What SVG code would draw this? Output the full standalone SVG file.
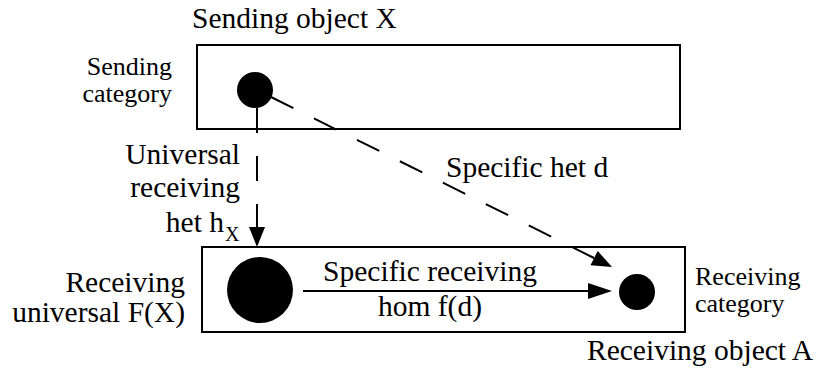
<svg xmlns="http://www.w3.org/2000/svg" width="818" height="379" viewBox="0 0 818 379">
<style>
  .box { fill: none; stroke: #000; stroke-width: 2; }
  .dash { fill: none; stroke: #000; stroke-width: 2; stroke-dasharray: 25 23; }
  .solid { fill: none; stroke: #000; stroke-width: 2; }
  .head { fill: #000; stroke: none; }
</style>
<g id="sending-object">
  <rect class="box" x="197" y="45" width="483" height="84"/>
  <text x="192" y="28" style="font-family:'Liberation Serif',serif;font-size:29.5px">Sending object X</text>
</g>
<g id="sending-category">
  <circle cx="255" cy="90" r="18" fill="#000"/>
  <text x="172" y="75" text-anchor="end" style="font-family:'Liberation Serif',serif;font-size:26px">Sending</text>
  <text x="172" y="102" text-anchor="end" style="font-family:'Liberation Serif',serif;font-size:26px">category</text>
</g>
<g id="receiving-object">
  <rect class="box" x="202" y="247" width="483" height="85"/>
  <text x="587" y="360" style="font-family:'Liberation Serif',serif;font-size:29.5px">Receiving object A</text>
</g>
<g id="receiving-universal">
  <circle cx="260" cy="290" r="33" fill="#000"/>
  <text x="185" y="292" text-anchor="end" style="font-family:'Liberation Serif',serif;font-size:29.5px">Receiving</text>
  <text x="185" y="322" text-anchor="end" style="font-family:'Liberation Serif',serif;font-size:29.5px">universal F(X)</text>
</g>
<g id="receiving-category">
  <circle cx="637" cy="292" r="18" fill="#000"/>
  <text x="695" y="285" style="font-family:'Liberation Serif',serif;font-size:26px">Receiving</text>
  <text x="695" y="312" style="font-family:'Liberation Serif',serif;font-size:26px">category</text>
</g>
<g id="connectors">
  <line class="dash" x1="257" y1="108" x2="257" y2="228"/>
  <polygon class="head" points="257,247 249,227 265,227"/>
  <line class="dash" x1="271" y1="97" x2="594" y2="258"/>
  <polygon class="head" points="612,267 590.5,265.2 597.7,250.9"/>
  <line class="solid" x1="303" y1="291" x2="590" y2="291"/>
  <polygon class="head" points="612,291 588,283 588,299"/>
  <text x="240" y="164" text-anchor="end" style="font-family:'Liberation Serif',serif;font-size:29.5px">Universal</text>
  <text x="240" y="197" text-anchor="end" style="font-family:'Liberation Serif',serif;font-size:29.5px">receiving</text>
  <text x="224" y="232" text-anchor="end" style="font-family:'Liberation Serif',serif;font-size:29.5px">het h</text>
  <text x="225" y="241" style="font-family:'Liberation Serif',serif;font-size:20px">X</text>
  <text x="446" y="177" style="font-family:'Liberation Serif',serif;font-size:29.5px">Specific het d</text>
  <text x="430" y="281" text-anchor="middle" style="font-family:'Liberation Serif',serif;font-size:29.5px">Specific receiving</text>
  <text x="430" y="316" text-anchor="middle" style="font-family:'Liberation Serif',serif;font-size:29.5px">hom f(d)</text>
</g>
</svg>
